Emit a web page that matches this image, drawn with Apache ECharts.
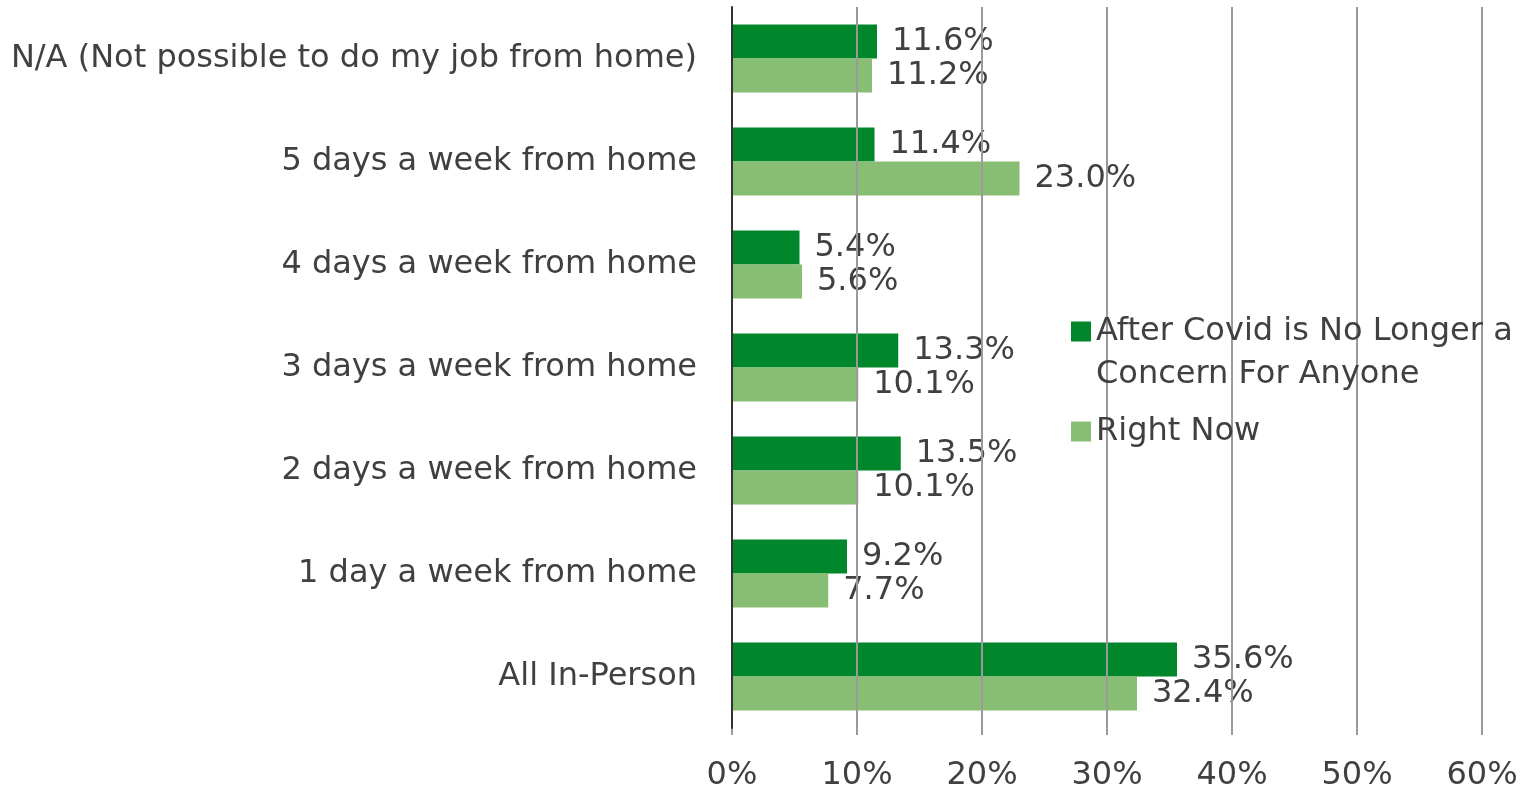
<!DOCTYPE html>
<html>
<head>
<meta charset="utf-8">
<script src="https://cdn.jsdelivr.net/npm/echarts@6/dist/echarts.min.js"></script>
<style>
  html, body { margin: 0; padding: 0; background: #fff; }
  #chart { width: 1528px; height: 790px; }
</style>
</head>
<body>
<div id="chart"></div>
<script>
const categories = [
  'N/A (Not possible to do my job from home)',
  '5 days a week from home',
  '4 days a week from home',
  '3 days a week from home',
  '2 days a week from home',
  '1 day a week from home',
  'All In-Person'
]
const afterCovid = [11.6, 11.4, 5.4, 13.3, 13.5, 9.2, 35.6]
const rightNow = [11.2, 23.0, 5.6, 10.1, 10.1, 7.7, 32.4]
const seriesNames = ['After Covid is No Longer a Concern For Anyone', 'Right Now']

const FONT = '"DejaVu Sans", "Liberation Sans", sans-serif'
const TEXT = '#404040'

const chart = echarts.init(document.getElementById('chart'))

const labelOpt = {
  show: true,
  position: 'right',
  distance: 15,
  color: TEXT,
  fontFamily: FONT,
  fontSize: 32,
  formatter: p => p.value.toFixed(1) + '%'
}

chart.setOption({
  backgroundColor: '#fff',
  animation: false,
  textStyle: { fontFamily: FONT },
  grid: { left: 732, right: 46, top: 7, bottom: 62, containLabel: false, outerBoundsMode: 'none' },
  legend: {
    orient: 'vertical',
    left: 1066,
    top: 262,
    icon: 'rect',
    itemWidth: 20,
    itemHeight: 20,
    itemGap: 14,
    textStyle: { color: TEXT, fontFamily: FONT, fontSize: 32, lineHeight: 43 },
    // blank first line keeps the square level with the first text line
    formatter: name => name === seriesNames[0]
      ? ' \nAfter Covid is No Longer a\nConcern For Anyone'
      : name,
    data: seriesNames
  },
  xAxis: {
    type: 'value',
    min: 0, max: 60, interval: 10,
    z: 3,
    axisLine: { show: false },
    axisTick: { show: true, length: 7, lineStyle: { color: '#9a9a9a', width: 2 } },
    axisLabel: {
      margin: 32,
      color: TEXT,
      fontFamily: FONT,
      fontSize: 32,
      formatter: v => v + '%'
    },
    splitLine: { show: true, lineStyle: { color: '#9a9a9a', width: 2 } }
  },
  yAxis: {
    type: 'category',
    inverse: true,
    data: categories,
    z: 4,
    axisLine: { show: true, lineStyle: { color: '#333', width: 2 } },
    axisTick: { show: false },
    axisLabel: { margin: 35, color: TEXT, fontFamily: FONT, fontSize: 32 }
  },
  series: [
    {
      name: seriesNames[0],
      type: 'bar',
      data: afterCovid,
      barGap: '0%',
      barCategoryGap: '34%',
      itemStyle: { color: '#00872C' },
      label: labelOpt
    },
    {
      name: seriesNames[1],
      type: 'bar',
      data: rightNow,
      barGap: '0%',
      barCategoryGap: '34%',
      itemStyle: { color: '#88BE74' },
      label: labelOpt
    }
  ]
})
</script>
</body>
</html>
